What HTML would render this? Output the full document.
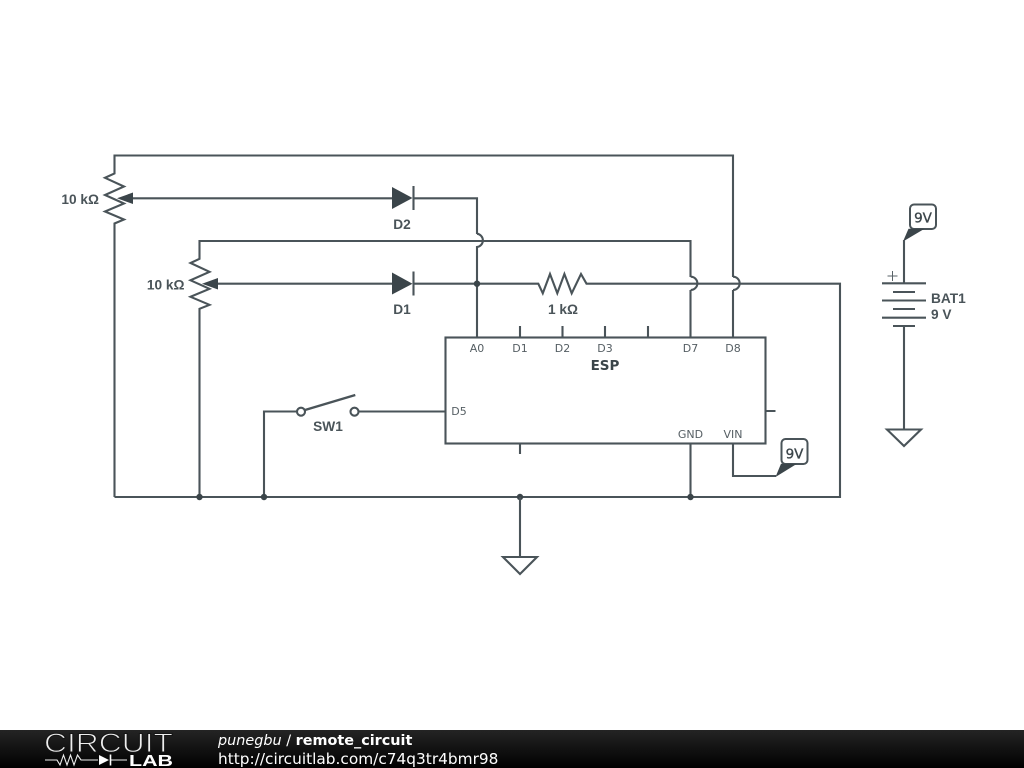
<!DOCTYPE html>
<html>
<head>
<meta charset="utf-8">
<title>remote_circuit</title>
<style>
html,body{margin:0;padding:0;background:#fff;width:1024px;height:768px;overflow:hidden}
svg{display:block;position:absolute;left:0;top:0}
.w{fill:none;stroke:#4a5459;stroke-width:2.1;stroke-linejoin:miter}
.f{fill:#3b454a;stroke:none}
.d{fill:#3b454a}
.l{font-family:"Liberation Sans",sans-serif;font-size:13.7px;font-weight:bold;fill:#4a5459}
.p{font-family:"DejaVu Sans",sans-serif;font-size:11px;fill:#555e63;text-anchor:middle}
.v{font-family:"DejaVu Sans",sans-serif;font-size:13.5px;font-weight:normal;fill:#3b454a;stroke:#3b454a;stroke-width:.35;text-anchor:middle}
</style>
</head>
<body>
<svg width="1024" height="768" viewBox="0 0 1024 768" xmlns="http://www.w3.org/2000/svg">
<defs>
<linearGradient id="g" x1="0" y1="0" x2="0" y2="1"><stop offset="0" stop-color="#242424"/><stop offset="1" stop-color="#000"/></linearGradient>
</defs>
<rect width="1024" height="768" fill="#fff"/>

<!-- Top wire and pot 1 -->
<path class="w" d="M733 337.5V290M733 277V155.5H114.5V173.5L105 177.8L124 186.5L105 195L124 203.5L105 211.5L124 219.5L114.5 223.5V497"/>
<path class="w" d="M125 198.3H392"/>
<path class="f" d="M117 198.3L133 192.5V204Z"/>
<!-- Pot 2 -->
<path class="w" d="M690.5 337.5V290M690.5 277V241H199.5V258.8L190.5 263L209.5 271.8L190.5 280.3L209.5 288.8L190.5 296.8L209.5 304.8L199.5 308.8V497"/>
<path class="w" d="M210 283.7H392"/>
<path class="f" d="M202 283.7L218 278V289.5Z"/>

<!-- Diode D2 -->
<path class="f" d="M392 187V209L412.5 198Z"/>
<path class="w" d="M413.5 186V210M413.5 198.3H477V234"/>
<path class="w" d="M477 233.7A6.7 6.7 0 0 1 477 247V337.5"/>
<!-- Diode D1 -->
<path class="f" d="M392 272.5V294.5L412.5 283.7Z"/>
<path class="w" d="M413.5 271.5V295.5M413.5 283.7H538.3L542.8 293.3L550 274L557.3 293.3L564.4 274L571.7 293.3L581 274L586.5 283.7H840V497H114.5"/>
<path class="w" d="M690.7 276.7A6.6 6.6 0 0 1 690.7 290M733 276.7A6.6 6.6 0 0 1 733 290"/>

<!-- ESP -->
<rect class="w" x="445.5" y="337.5" width="320" height="106" fill="#fff"/>
<path class="w" d="M520 326V337.5M562.5 326V337.5M605 326V337.5M648 326V337.5M765.5 411H775.5M520 443.5V454M690.5 443.5V497M733 443.5V476H776"/>
<path class="w" d="M358 411.5H445.5M297 411.5H264V497"/>
<path class="w" d="M305 410L355.3 395" style="stroke-width:2.4"/>
<circle class="w" cx="301" cy="411.7" r="4" fill="#fff"/>
<circle class="w" cx="354.5" cy="411.7" r="4" fill="#fff"/>

<!-- Junctions -->
<circle class="d" cx="477" cy="283.7" r="3.2"/>
<circle class="d" cx="199.5" cy="497" r="3.2"/>
<circle class="d" cx="264" cy="497" r="3.2"/>
<circle class="d" cx="520" cy="497" r="3.2"/>
<circle class="d" cx="690.5" cy="497" r="3.2"/>

<!-- Ground -->
<path class="w" d="M520 497V557M503 557H537L520 574Z"/>

<!-- VIN flag -->
<rect x="781.5" y="439" width="26" height="25" rx="4" fill="#fff" stroke="#4a5459" stroke-width="2"/>
<path class="f" d="M775.5 477L781 463.8H797Z"/>
<text x="794.5" y="458.5" class="v">9V</text>

<!-- Battery -->
<rect x="910" y="204.5" width="26" height="24.5" rx="4" fill="#fff" stroke="#4a5459" stroke-width="2"/>
<path class="f" d="M903 241.5L908.5 228.8H924.5Z"/>
<text x="923" y="222.5" class="v">9V</text>
<path class="w" d="M904 240V283.3M882 283.3H926M893 292H915M882 300.5H926M893 309H915M882 317.7H926M893 326H915M904 326V429.5M887 429.5H921L904 446Z"/>
<path d="M892.5 271V281M887.5 276H897.5" fill="none" stroke="#5a6368" stroke-width="1"/>

<!-- Labels -->
<text class="l" x="99" y="204" text-anchor="end">10 kΩ</text>
<text class="l" x="184.5" y="289.5" text-anchor="end">10 kΩ</text>
<text class="l" x="402" y="229" text-anchor="middle">D2</text>
<text class="l" x="402" y="314" text-anchor="middle">D1</text>
<text class="l" x="563" y="314" text-anchor="middle">1 kΩ</text>
<text class="l" x="328" y="431" text-anchor="middle">SW1</text>
<text class="l" x="931" y="303">BAT1</text>
<text class="l" x="931" y="319">9 V</text>

<text class="p" x="477" y="352">A0</text>
<text class="p" x="520" y="352">D1</text>
<text class="p" x="562.5" y="352">D2</text>
<text class="p" x="605" y="352">D3</text>
<text class="p" x="690.5" y="352">D7</text>
<text class="p" x="733" y="352">D8</text>
<text class="p" x="459" y="415">D5</text>
<text class="p" x="690.5" y="438">GND</text>
<text class="p" x="733" y="438">VIN</text>
<text x="605" y="370" text-anchor="middle" style="font-family:'DejaVu Sans',sans-serif;font-weight:bold;font-size:13.5px;fill:#3b454a">ESP</text>

<!-- Footer -->
<rect x="0" y="730" width="1024" height="38" fill="url(#g)"/>
<text x="44" y="752" textLength="129" lengthAdjust="spacingAndGlyphs" style="font-family:'Liberation Sans',sans-serif;font-size:26.5px;fill:#eee;stroke:#161616;stroke-width:1;paint-order:fill">CIRCUIT</text>
<text x="129" y="766" textLength="44" lengthAdjust="spacingAndGlyphs" style="font-family:'Liberation Sans',sans-serif;font-weight:bold;font-size:16px;fill:#fff">LAB</text>
<path d="M45 760H57L60 765L63.5 755L67 765L70.5 755L74 765L77.5 755L81 760H98M110 760H127" fill="none" stroke="#eee" stroke-width="1.1"/>
<path d="M99 755V765L109 760Z" fill="#fff"/>
<path d="M110.5 754.5V765.5" stroke="#fff" stroke-width="1.6"/>
<text x="218" y="745" style="font-family:'DejaVu Sans',sans-serif;font-size:14.4px;fill:#fff"><tspan font-style="italic">punegbu</tspan> / <tspan font-weight="bold">remote_circuit</tspan></text>
<text x="218" y="764" style="font-family:'DejaVu Sans',sans-serif;font-size:15.35px;fill:#fff">http://circuitlab.com/c74q3tr4bmr98</text>
</svg>
</body>
</html>
